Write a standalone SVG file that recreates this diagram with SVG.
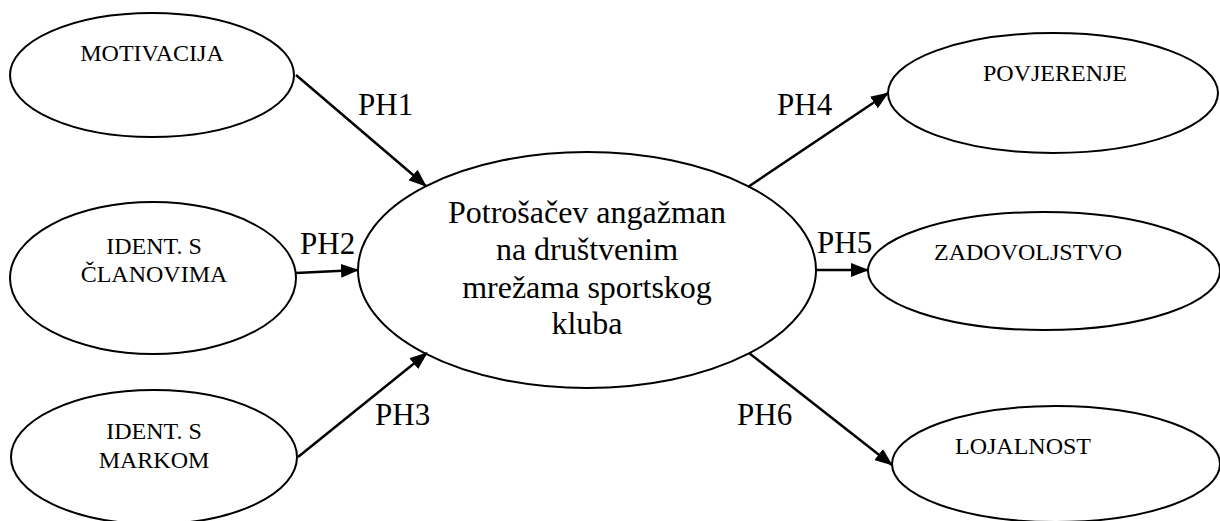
<svg xmlns="http://www.w3.org/2000/svg" width="1220" height="521" viewBox="0 0 1220 521">
<style>
.n{fill:#fff;stroke:#000;stroke-width:2}
text{font-family:'Liberation Serif','Times New Roman','DejaVu Serif',serif;fill:#000}
.t{font-size:24px;text-anchor:middle}
.c{font-size:32px;text-anchor:middle}
.l{font-size:31px}
.e{stroke:#000;stroke-width:2.5;fill:none;marker-end:url(#ah)}
</style>
<defs>
<marker id="ah" markerUnits="userSpaceOnUse" markerWidth="18" markerHeight="14" refX="17" refY="7" orient="auto">
<path d="M0,0 L18,7 L0,14 Z" fill="#000"/>
</marker>
</defs>
<rect width="1220" height="521" fill="#fff"/>
<g id="n-motivacija"><ellipse class="n" cx="152" cy="75" rx="142" ry="62"/><text class="t" x="152" y="61">MOTIVACIJA</text></g>
<g id="n-clanovi"><ellipse class="n" cx="153" cy="278" rx="143" ry="76"/><text class="t" x="154" y="254">IDENT. S</text><text class="t" x="154" y="282">ČLANOVIMA</text></g>
<g id="n-marka"><ellipse class="n" cx="154" cy="457" rx="143" ry="67"/><text class="t" x="154" y="439">IDENT. S</text><text class="t" x="154" y="468">MARKOM</text></g>
<g id="n-centar"><ellipse class="n" cx="587" cy="270" rx="229" ry="118"/>
<text class="c" x="587" y="223">Potrošačev angažman</text>
<text class="c" x="587" y="260">na društvenim</text>
<text class="c" x="587" y="298">mrežama sportskog</text>
<text class="c" x="587" y="334">kluba</text></g>
<g id="n-povjerenje"><ellipse class="n" cx="1053" cy="93" rx="165" ry="60"/><text class="t" x="1055" y="81">POVJERENJE</text></g>
<g id="n-zadovoljstvo"><ellipse class="n" cx="1044" cy="271" rx="176" ry="59"/><text class="t" x="1028" y="260">ZADOVOLJSTVO</text></g>
<g id="n-lojalnost"><ellipse class="n" cx="1056" cy="464" rx="164" ry="58"/><text class="t" x="1023" y="454">LOJALNOST</text></g>
<g id="edges">
<line class="e" x1="296" y1="75" x2="426" y2="186"/>
<line class="e" x1="296" y1="273" x2="358" y2="270"/>
<line class="e" x1="298" y1="457" x2="427" y2="353"/>
<line class="e" x1="748" y1="187" x2="888" y2="93"/>
<line class="e" x1="816" y1="270" x2="868" y2="270"/>
<line class="e" x1="749" y1="353" x2="892" y2="465"/>
<text class="l" x="358" y="115">PH1</text>
<text class="l" x="300" y="254">PH2</text>
<text class="l" x="375" y="425">PH3</text>
<text class="l" x="777" y="115">PH4</text>
<text class="l" x="817" y="253">PH5</text>
<text class="l" x="737" y="425">PH6</text>
</g>
</svg>
